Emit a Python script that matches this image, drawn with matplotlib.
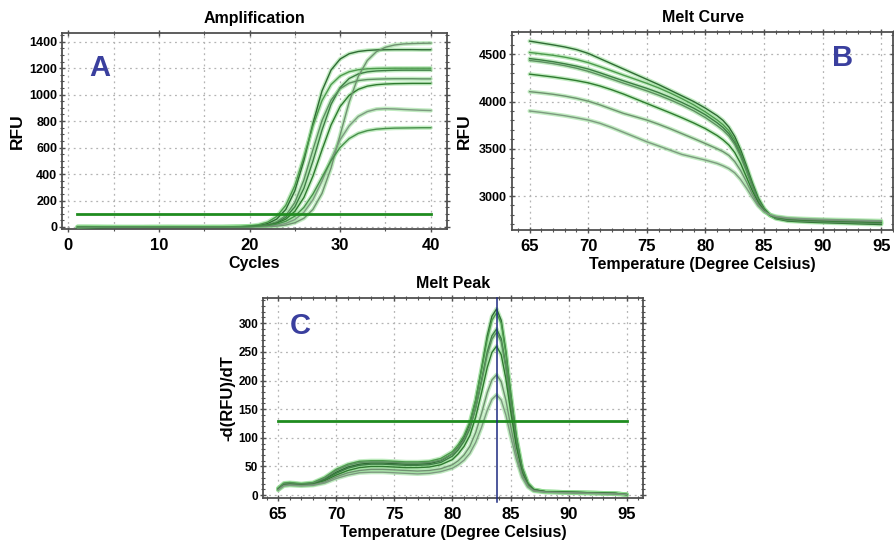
import matplotlib
matplotlib.use("Agg")
import matplotlib.pyplot as plt
from matplotlib.ticker import MultipleLocator

plt.rcParams['font.family'] = ['Liberation Sans', 'DejaVu Sans']
plt.rcParams['font.weight'] = 'bold'

# ---------------- Amplification (RFU per cycle) ----------------
cycles = list(range(1, 41))
amp_1 = [-8, -6, -4, -3, -2, -2, -1, -1, 0, 0, 0, 0, 0, 0, 0, 1, 1,
         1, 2, 5, 11, 26, 60, 132, 273, 503, 783, 1028, 1186, 1269, 1309,
         1326, 1334, 1338, 1339, 1340, 1340, 1340, 1339, 1339]
amp_2 = [2, 2, 2, 1, 1, 1, 1, 1, 1, 1, 1, 1, 1, 1, 1, 1, 1,
         2, 4, 8, 17, 37, 80, 164, 313, 528, 764, 955, 1076, 1141, 1173,
         1188, 1195, 1198, 1199, 1200, 1200, 1200, 1200, 1200]
amp_3 = [-10, -7, -5, -4, -3, -2, -2, -1, -1, -1, 0, 0, 0, 0, 0, 0, 0,
         1, 1, 3, 7, 16, 34, 73, 152, 292, 499, 732, 927, 1053, 1122,
         1156, 1172, 1179, 1182, 1184, 1185, 1185, 1185, 1185]
amp_4 = [1, 1, 1, 1, 0, 0, 0, 0, 0, 0, 0, 0, 0, 0, 0, 0, 0,
         1, 1, 3, 7, 17, 39, 87, 185, 356, 584, 804, 959, 1045, 1087,
         1106, 1114, 1117, 1119, 1120, 1120, 1120, 1119, 1119]
amp_5 = [-9, -6, -4, -3, -2, -2, -1, -1, -1, 0, 0, 0, 0, 0, 0, 0, 0,
         1, 2, 3, 7, 14, 29, 59, 118, 223, 385, 583, 771, 910, 995,
         1040, 1064, 1075, 1080, 1083, 1084, 1085, 1085, 1085]
amp_6 = [3, 3, 2, 2, 2, 1, 1, 1, 1, 1, 1, 0, 0, 0, 0, 0, 0,
         0, 0, 1, 2, 3, 7, 15, 32, 66, 133, 254, 446, 695, 944,
         1137, 1258, 1324, 1358, 1375, 1383, 1386, 1388, 1389]
amp_7 = [-7, -5, -3, -2, -2, -1, -1, -1, 0, 0, 0, 0, 0, 0, 0, 0, 0,
         0, 1, 1, 3, 6, 13, 27, 56, 111, 206, 347, 511, 659, 764,
         835, 872, 890, 894, 892, 888, 885, 882, 880]
amp_8 = [1, 1, 1, 0, 0, 0, 0, 0, 0, 0, 0, 0, 0, 0, 0, 0, 0,
         1, 1, 3, 6, 11, 22, 43, 82, 148, 249, 375, 501, 601, 668,
         707, 728, 739, 744, 747, 748, 749, 750, 750]
amp_threshold = 100

# ---------------- Melt curve (RFU vs temperature) ----------------
melt_temp = [65, 66, 67, 68, 69, 70, 71, 72, 73, 74, 75, 76, 77, 78, 79, 80, 81,
             81.5, 82, 82.5, 83, 83.5, 84, 84.5, 85, 85.5, 86,
             87, 88, 89, 90, 91, 92, 93, 94, 95]
melt_1 = [4640, 4620, 4600, 4578, 4550, 4510, 4455, 4400, 4345, 4290, 4235, 4180,
          4120, 4060, 4000, 3930, 3850,
          3800, 3730, 3630, 3490, 3320, 3140, 2980, 2870, 2800, 2760,
          2735, 2728, 2722, 2718, 2714, 2710, 2706, 2702, 2698]
melt_2 = [4520, 4505, 4490, 4470, 4445, 4412, 4370, 4325, 4280, 4237, 4193, 4145,
          4090, 4030, 3965, 3890, 3805,
          3755, 3690, 3595, 3460, 3295, 3120, 2965, 2862, 2797, 2765,
          2742, 2735, 2730, 2726, 2722, 2718, 2715, 2711, 2708]
melt_3 = [4455, 4440, 4422, 4400, 4375, 4345, 4305, 4262, 4220, 4180, 4140, 4095,
          4045, 3990, 3930, 3860, 3775,
          3725, 3660, 3565, 3435, 3275, 3105, 2955, 2857, 2797, 2770,
          2748, 2740, 2735, 2731, 2727, 2724, 2720, 2717, 2714]
melt_4 = [4435, 4420, 4402, 4380, 4353, 4320, 4280, 4238, 4195, 4155, 4113, 4068,
          4018, 3963, 3902, 3830, 3745,
          3697, 3635, 3545, 3418, 3262, 3096, 2950, 2854, 2795, 2768,
          2745, 2738, 2733, 2729, 2725, 2722, 2718, 2715, 2712]
melt_5 = [4290, 4275, 4260, 4242, 4222, 4198, 4165, 4125, 4080, 4030, 3980, 3930,
          3880, 3828, 3773, 3713, 3640,
          3595, 3540, 3460, 3345, 3200, 3055, 2930, 2845, 2797, 2775,
          2755, 2748, 2743, 2739, 2735, 2732, 2729, 2726, 2722]
melt_6 = [4105, 4092, 4077, 4058, 4034, 4004, 3965, 3920, 3875, 3840, 3804, 3760,
          3712, 3660, 3608, 3555, 3500,
          3470, 3430, 3365, 3270, 3150, 3020, 2910, 2838, 2800, 2780,
          2762, 2755, 2750, 2746, 2742, 2739, 2736, 2733, 2730]
melt_7 = [3900, 3885, 3868, 3850, 3828, 3804, 3770, 3725, 3675, 3625, 3574, 3530,
          3485, 3440, 3410, 3380, 3345,
          3320, 3290, 3245, 3175, 3085, 2985, 2895, 2835, 2803, 2785,
          2768, 2762, 2757, 2753, 2750, 2747, 2744, 2741, 2738]

# ---------------- Melt peak (-dRFU/dT vs temperature) ----------------
peak_temp = [65, 65.5, 66, 67, 68, 69, 70, 71, 72, 73, 74, 75, 76, 77, 78, 79, 80,
             80.5, 81, 81.5, 82, 82.5, 83, 83.4, 83.8, 84.2, 84.6, 85, 85.5, 86,
             86.5, 87, 88, 90, 92, 94, 95]
peak_1 = [10, 20, 21, 19, 21, 28, 40, 49, 54, 56, 56, 55, 54, 54, 55, 60, 72,
          84, 100, 125, 165, 220, 278, 312, 325, 305, 251, 181, 102, 48,
          21, 10, 6, 5, 4, 3, 1]
peak_2 = [12, 21, 22, 20, 22, 31, 45, 54, 59, 60, 60, 59, 58, 58, 59, 64, 76,
          88, 104, 128, 166, 218, 272, 305, 318, 300, 248, 179, 101, 47,
          20, 9, 6, 5, 4, 3, 1]
peak_3 = [11, 19, 20, 18, 20, 27, 38, 47, 52, 54, 54, 53, 52, 52, 53, 57, 68,
          79, 94, 116, 152, 200, 250, 278, 290, 273, 226, 164, 93, 44,
          19, 9, 6, 5, 4, 3, 1]
peak_4 = [12, 20, 21, 19, 21, 30, 43, 52, 57, 58, 58, 57, 56, 56, 57, 61, 72,
          83, 97, 118, 152, 197, 245, 272, 284, 268, 222, 161, 92, 43,
          19, 9, 6, 5, 4, 3, 1]
peak_5 = [10, 18, 19, 18, 19, 25, 35, 43, 48, 50, 50, 49, 48, 48, 49, 53, 62,
          72, 85, 104, 136, 178, 223, 249, 260, 245, 203, 148, 85, 40,
          18, 9, 6, 5, 4, 3, 1]
peak_6 = [9, 17, 18, 17, 18, 23, 32, 39, 43, 45, 45, 44, 43, 42, 43, 46, 53,
          60, 70, 85, 109, 142, 179, 201, 210, 198, 166, 122, 72, 35,
          16, 8, 5, 4, 3, 2, 1]
peak_7 = [9, 16, 17, 16, 17, 21, 29, 35, 39, 40, 40, 39, 38, 37, 38, 41, 47,
          53, 61, 73, 92, 118, 148, 167, 175, 166, 140, 104, 63, 31,
          14, 7, 5, 4, 3, 2, 1]
peak_threshold = 130
peak_marker_temp = 83.8

# ---------------- styling ----------------
core_colors = ['#2f6a34', '#4c9a4c', '#3d7d44', '#5e8f62', '#2f7a2f', '#6f9170', '#7d9a80', '#478f4a']
halo_color = '#8fdc8f'
thr_color = '#1f8c1f'
label_blue = '#3a3f9e'
grid_kw = dict(color='#b4b4b4', linestyle=(0, (1.5, 3)), linewidth=0.9)


def draw_curves(ax, x, series):
    for i, y in enumerate(series):
        ax.plot(x, y, color=halo_color, lw=3.0, alpha=0.55, solid_capstyle='round', zorder=2)
        ax.plot(x, y, color=core_colors[i % len(core_colors)], lw=1.0, zorder=3)


def style_axes(ax, xmaj, xmin, ymaj, ymin, ylab_size=9):
    ax.xaxis.set_major_locator(MultipleLocator(xmaj))
    ax.xaxis.set_minor_locator(MultipleLocator(xmin))
    ax.yaxis.set_major_locator(MultipleLocator(ymaj))
    ax.yaxis.set_minor_locator(MultipleLocator(ymin))
    for s in ax.spines.values():
        s.set_color('#505050')
        s.set_linewidth(1.3)
    ax.tick_params(which='both', top=True, right=True, direction='inout',
                   color='#505050')
    ax.tick_params(which='major', length=5, width=1.0)
    ax.tick_params(which='minor', length=3, width=0.8)
    ax.tick_params(axis='x', labelsize=12, pad=4)
    ax.tick_params(axis='y', labelsize=ylab_size, pad=1)
    for lab in ax.get_xticklabels() + ax.get_yticklabels():
        lab.set_fontweight('bold')
    ax.grid(True, which='major', **grid_kw)
    ax.set_axisbelow(True)


fig = plt.figure(figsize=(8.94, 5.43), dpi=100)

# Panel A
axA = fig.add_axes([0.0694, 0.5783, 0.4306, 0.361])
draw_curves(axA, cycles, [amp_1, amp_2, amp_3, amp_4, amp_5, amp_6, amp_7, amp_8])
axA.plot([cycles[0], cycles[-1]], [amp_threshold, amp_threshold], color=thr_color, lw=2.0, zorder=4)
axA.set_xlim(-0.7, 41.8)
axA.set_ylim(-15, 1466)
style_axes(axA, 10, 2, 200, 50)
axA.grid(True, which='minor', axis='x', **grid_kw)
axA.xaxis.set_minor_locator(MultipleLocator(5))
axA.set_title('Amplification', fontsize=11.5, fontweight='bold', pad=7)
axA.set_xlabel('Cycles', fontsize=11.5, fontweight='bold', labelpad=2)
axA.set_ylabel('RFU', fontsize=12.5, fontweight='bold')
axA.yaxis.set_label_coords(-0.096, 0.5)

# Panel B
axB = fig.add_axes([0.5727, 0.5764, 0.4262, 0.3646])
draw_curves(axB, melt_temp, [melt_1, melt_2, melt_3, melt_4, melt_5, melt_6, melt_7])
axB.set_xlim(63.5, 96.0)
axB.set_ylim(2640, 4736)
style_axes(axB, 5, 1, 500, 100)
axB.set_title('Melt Curve', fontsize=11.5, fontweight='bold', pad=7)
axB.set_xlabel('Temperature (Degree Celsius)', fontsize=11.5, fontweight='bold', labelpad=2)
axB.set_ylabel('RFU', fontsize=12.5, fontweight='bold')
axB.yaxis.set_label_coords(-0.105, 0.5)

# Panel C
axC = fig.add_axes([0.2942, 0.0829, 0.425, 0.3683])
draw_curves(axC, peak_temp, [peak_1, peak_2, peak_3, peak_4, peak_5, peak_6, peak_7])
axC.plot([peak_temp[0], peak_temp[-1]], [peak_threshold, peak_threshold], color=thr_color, lw=2.0, zorder=4)
axC.axvline(peak_marker_temp, color='#1c2a80', lw=1.1, zorder=5, ymin=-0.02, ymax=1.0, clip_on=False)
axC.set_xlim(63.7, 96.4)
axC.set_ylim(-5, 344)
style_axes(axC, 5, 1, 50, 10, ylab_size=8.5)
axC.set_title('Melt Peak', fontsize=11.5, fontweight='bold', pad=7)
axC.set_xlabel('Temperature (Degree Celsius)', fontsize=11.5, fontweight='bold', labelpad=2)
axC.set_ylabel('-d(RFU)/dT', fontsize=12, fontweight='bold')
axC.yaxis.set_label_coords(-0.072, 0.5)

# Panel letters
fig.text(0.1119, 0.8748, 'A', fontsize=21, fontweight='bold', color=label_blue, ha='center', va='center')
fig.text(0.943, 0.8932, 'B', fontsize=21, fontweight='bold', color=label_blue, ha='center', va='center')
fig.text(0.3356, 0.3996, 'C', fontsize=21, fontweight='bold', color=label_blue, ha='center', va='center')

fig.savefig('out.png', dpi=100)
